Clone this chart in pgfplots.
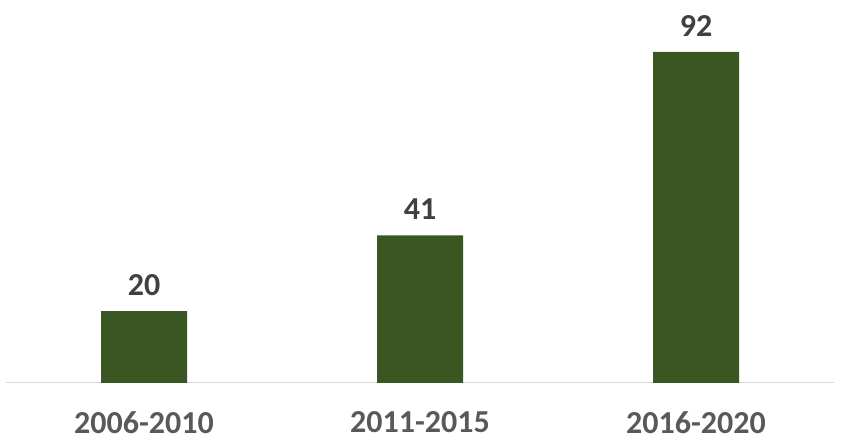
\documentclass[border=0pt]{standalone}
\usepackage{pgfplots}
\pgfplotsset{compat=1.18}
\usepackage{fontspec}
\setmainfont{Carlito}
\definecolor{bargreen}{RGB}{58,87,35}
\definecolor{labgray}{RGB}{89,89,89}
\definecolor{valgray}{RGB}{64,64,64}
\definecolor{axgray}{RGB}{217,217,217}
\begin{document}
\begin{tikzpicture}
\useasboundingbox (-6pt,-60pt) rectangle (841pt,383pt);
\begin{axis}[
  scale only axis,
  width=828pt, height=383pt,
  xmin=-0.5, xmax=2.5,
  ymin=0, ymax=106.4,
  axis x line*=bottom,
  axis y line=none,
  x axis line style={axgray, line width=1pt, -},
  xtick=data,
  xticklabels={2006-2010,2011-2015,2016-2020},
  major tick length=0pt,
  xticklabel style={font=\fontsize{32}{36}\selectfont\bfseries, text=labgray, yshift=-25pt},
  ybar, bar width=86pt,
  /pgf/number format/assume math mode=true,
  nodes near coords={\bfseries\pgfmathprintnumber{\pgfplotspointmeta}},
  nodes near coords style={font=\fontsize{32}{36}\selectfont\bfseries, text=valgray, yshift=12pt},
  clip=false,
]
\addplot[fill=bargreen, draw=none] coordinates {(0,20) (1,41) (2,92)};
\end{axis}
\end{tikzpicture}
\end{document}
